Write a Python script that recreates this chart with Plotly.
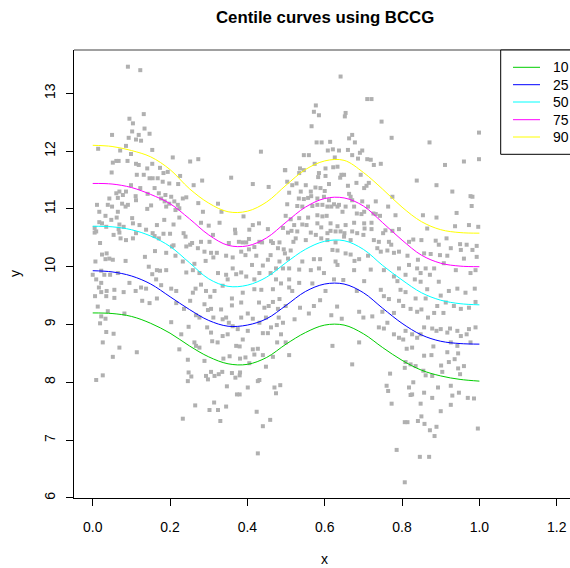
import plotly.graph_objects as go

# ---------------- data ----------------
pts_upper_left = [(0.091,13.46),(0.123,13.40),(0.132,12.64),(0.095,12.56),(0.104,12.48),(0.102,12.34),(0.134,12.39),(0.050,12.28),(0.119,12.28),(0.147,12.30),(0.093,12.23),(0.112,12.20),(0.125,12.18),(0.086,12.09),(0.014,12.04),(0.071,12.01),(0.154,12.02),(0.099,11.95),(0.207,11.89),(0.252,11.82),(0.273,11.86),(0.435,11.99),(0.052,11.80),(0.061,11.83),(0.067,11.83),(0.090,11.83),(0.112,11.78),(0.119,11.76),(0.141,11.70),(0.154,11.78),(0.174,11.71),(0.194,11.64),(0.183,11.62),(0.049,11.63),(0.114,11.59),(0.132,11.59),(0.147,11.53),(0.155,11.53),(0.168,11.53),(0.181,11.47),(0.198,11.44),(0.226,11.57),(0.261,11.41),(0.283,11.49),(0.221,11.43),(0.358,11.54),(0.414,11.43),(0.455,11.38),(0.498,11.67),(0.099,11.41),(0.123,11.36),(0.160,11.36),(0.086,11.30),(0.069,11.30),(0.061,11.27),(0.078,11.24),(0.111,11.22),(0.142,11.26),(0.171,11.27),(0.188,11.24),(0.203,11.21),(0.177,11.18),(0.242,11.20),(0.233,11.18),(0.043,11.18),(0.065,11.19),(0.091,11.07),(0.112,11.15),(0.151,11.06),(0.141,11.00),(0.186,11.13),(0.198,11.09),(0.211,11.13),(0.220,11.07),(0.214,10.98),(0.190,11.04),(0.224,11.01),(0.273,11.10),(0.324,11.09),(0.333,10.95),(0.285,10.95),(0.011,11.07),(0.039,11.07),(0.050,11.04),(0.076,11.09),(0.085,11.04),(0.017,10.95),(0.065,10.95),(0.033,10.88),(0.062,10.85),(0.048,10.81),(0.102,10.84),(0.224,10.85),(0.280,10.76),(0.300,10.71),(0.328,10.76),(0.390,10.87),(0.414,10.72),(0.430,10.75),(0.405,10.64),(0.368,10.64),(0.453,10.65),(0.492,10.67),(0.017,10.77),(0.024,10.75),(0.069,10.73),(0.080,10.69),(0.104,10.75),(0.121,10.72),(0.138,10.64),(0.166,10.72),(0.185,10.81),(0.209,10.73),(0.005,10.67),(0.005,10.59),(0.009,10.61),(0.035,10.69),(0.067,10.65),(0.069,10.59),(0.054,10.55),(0.072,10.49),(0.086,10.46),(0.104,10.49),(0.112,10.58),(0.155,10.58),(0.160,10.53),(0.171,10.49),(0.183,10.57),(0.200,10.57),(0.235,10.58),(0.240,10.52),(0.209,10.37),(0.205,10.35),(0.190,10.24),(0.161,10.27),(0.135,10.17),(0.019,10.41),(0.024,10.21),(0.036,10.23),(0.043,10.14),(0.033,10.13),(0.052,10.12),(0.007,10.09),(0.085,10.10),(0.145,10.00),(0.166,9.94),(0.174,9.93),(0.190,9.94),(0.154,9.87),(0.214,10.19),(0.233,10.09),(0.242,10.35),(0.257,10.41),(0.252,10.38),(0.272,10.32),(0.280,10.43),(0.289,10.26),(0.263,10.05),(0.259,9.94),(0.242,9.90),(0.276,9.89),(0.292,10.10),(0.306,10.24),(0.321,10.24),(0.312,10.16),(0.302,10.43),(0.311,10.55),(0.352,10.41),(0.345,10.19),(0.362,10.16),(0.369,10.58),(0.378,10.43),(0.388,10.42),(0.397,10.42),(0.384,10.26),(0.404,10.48),(0.395,10.20),(0.404,10.30),(0.418,10.34),(0.431,10.43),(0.438,10.42),(0.461,10.44),(0.466,10.41),(0.483,10.42),(0.479,10.32),(0.494,10.30),(0.460,10.20),(0.453,10.12),(0.440,10.02),(0.412,10.03),(0.423,10.19),(0.371,9.87),(0.384,9.90),(0.345,9.86),(0.324,9.89),(0.362,9.97),(0.474,9.97),(0.492,9.97),(0.483,10.09),(0.431,9.89),(0.460,9.89),(0.418,9.78),(0.397,9.83),(0.022,9.93),(0.030,9.86),(0.045,9.86),(0.065,9.89),(0.000,9.86)]

pts_upper_right = [(0.641,13.29),(0.710,12.90),(0.721,12.90),(0.577,12.79),(0.572,12.68),(0.585,12.62),(0.654,12.66),(0.652,12.60),(0.566,12.43),(0.747,12.51),(0.999,12.32),(0.671,12.28),(0.663,12.22),(0.773,12.23),(0.871,12.15),(0.579,12.15),(0.592,12.15),(0.614,12.16),(0.678,12.15),(0.608,12.01),(0.621,12.03),(0.637,12.01),(0.660,12.02),(0.697,12.01),(0.691,11.97),(0.546,11.93),(0.559,11.93),(0.626,11.89),(0.671,11.93),(0.686,11.87),(0.710,11.86),(0.719,11.85),(0.745,11.78),(0.727,11.76),(0.999,11.86),(0.960,11.82),(0.911,11.76),(0.497,11.67),(0.536,11.70),(0.546,11.67),(0.574,11.78),(0.602,11.70),(0.622,11.72),(0.633,11.73),(0.534,11.62),(0.585,11.62),(0.583,11.55),(0.602,11.57),(0.643,11.59),(0.650,11.59),(0.640,11.54),(0.693,11.59),(0.682,11.45),(0.714,11.45),(0.702,11.36),(0.708,11.40),(0.503,11.47),(0.516,11.41),(0.527,11.44),(0.551,11.41),(0.576,11.37),(0.589,11.36),(0.611,11.43),(0.600,11.31),(0.660,11.40),(0.838,11.49),(0.889,11.41),(0.930,11.30),(0.977,11.22),(0.982,11.21),(0.538,11.30),(0.564,11.30),(0.508,11.28),(0.533,11.18),(0.546,11.17),(0.557,11.19),(0.565,11.22),(0.581,11.18),(0.598,11.21),(0.611,11.15),(0.617,11.04),(0.633,11.04),(0.654,11.04),(0.663,11.26),(0.667,11.21),(0.671,11.15),(0.676,11.04),(0.697,11.13),(0.712,11.04),(0.732,11.13),(0.775,11.21),(0.764,11.04),(0.503,11.08),(0.529,11.05),(0.542,11.04),(0.568,11.05),(0.581,11.07),(0.594,11.07),(0.607,11.04),(0.624,11.08),(0.637,11.07),(0.646,10.95),(0.683,10.92),(0.695,10.91),(0.702,10.95),(0.726,10.92),(0.732,10.91),(0.743,10.88),(0.783,10.89),(0.854,10.89),(0.889,10.85),(0.941,10.93),(0.980,11.05),(0.997,10.69),(0.973,10.72),(0.937,10.70),(0.499,10.88),(0.512,10.82),(0.534,10.84),(0.557,10.85),(0.581,10.89),(0.594,10.87),(0.605,10.88),(0.521,10.72),(0.542,10.73),(0.553,10.72),(0.581,10.75),(0.591,10.68),(0.615,10.75),(0.633,10.70),(0.654,10.72),(0.676,10.76),(0.702,10.75),(0.721,10.76),(0.703,10.66),(0.505,10.59),(0.514,10.62),(0.529,10.61),(0.564,10.59),(0.577,10.55),(0.607,10.58),(0.615,10.62),(0.628,10.61),(0.641,10.61),(0.651,10.58),(0.671,10.61),(0.684,10.58),(0.700,10.55),(0.721,10.65),(0.751,10.58),(0.757,10.63),(0.792,10.65),(0.775,10.62),(0.865,10.66),(0.915,10.49),(0.525,10.49),(0.519,10.43),(0.551,10.46),(0.591,10.49),(0.607,10.46),(0.628,10.42),(0.650,10.52),(0.667,10.46),(0.727,10.46),(0.740,10.43),(0.766,10.43),(0.772,10.38),(0.818,10.43),(0.829,10.47),(0.850,10.46),(0.887,10.45),(0.895,10.38),(0.950,10.39),(0.967,10.38),(0.993,10.36),(0.497,10.23),(0.512,10.28),(0.505,10.14),(0.542,10.09),(0.572,10.13),(0.588,10.13),(0.620,10.29),(0.633,10.28),(0.654,10.23),(0.628,10.09),(0.667,10.21),(0.689,10.13),(0.677,10.10),(0.712,10.19),(0.736,10.32),(0.745,10.26),(0.762,10.28),(0.779,10.24),(0.792,10.26),(0.814,10.19),(0.841,10.12),(0.857,10.23),(0.874,10.22),(0.898,10.20),(0.917,10.19),(0.926,10.32),(0.952,10.29),(0.960,10.14),(0.982,10.29),(0.993,10.17),(0.508,9.97),(0.534,9.95),(0.564,9.94),(0.585,9.97),(0.598,9.89),(0.633,10.03),(0.676,9.94),(0.719,9.95),(0.753,9.94),(0.792,9.97),(0.818,10.03),(0.839,9.97),(0.861,9.97),(0.883,9.97),(0.908,10.06),(0.939,9.94),(0.977,9.89),(0.990,9.94),(0.848,9.89),(0.872,9.86),(0.809,9.86),(0.779,9.83)]

pts_lower_left = [(0.009,9.78),(0.022,9.72),(0.016,9.64),(0.006,9.49),(0.022,9.56),(0.036,9.58),(0.056,9.60),(0.080,9.56),(0.095,9.72),(0.111,9.58),(0.125,9.64),(0.138,9.62),(0.164,9.78),(0.177,9.68),(0.203,9.62),(0.216,9.58),(0.259,9.55),(0.266,9.62),(0.280,9.69),(0.293,9.58),(0.315,9.58),(0.336,9.67),(0.349,9.78),(0.388,9.55),(0.418,9.61),(0.436,9.60),(0.466,9.61),(0.487,9.71),(0.474,9.78),(0.035,9.49),(0.056,9.46),(0.013,9.31),(0.039,9.23),(0.128,9.41),(0.147,9.37),(0.166,9.45),(0.216,9.37),(0.236,9.27),(0.252,9.41),(0.289,9.35),(0.304,9.48),(0.298,9.25),(0.306,9.27),(0.332,9.26),(0.360,9.33),(0.360,9.45),(0.384,9.38),(0.430,9.38),(0.444,9.29),(0.455,9.32),(0.466,9.39),(0.483,9.44),(0.479,9.27),(0.022,9.14),(0.033,9.10),(0.019,9.02),(0.082,9.19),(0.203,9.04),(0.267,9.16),(0.276,9.12),(0.312,9.12),(0.336,9.09),(0.345,9.12),(0.352,9.03),(0.362,8.97),(0.384,9.12),(0.401,9.19),(0.414,9.10),(0.431,9.03),(0.448,9.12),(0.481,9.12),(0.476,8.99),(0.492,9.03),(0.035,8.87),(0.054,8.84),(0.026,8.69),(0.069,8.60),(0.052,8.44),(0.114,8.52),(0.229,8.83),(0.248,8.96),(0.296,8.95),(0.309,8.71),(0.323,8.69),(0.306,8.86),(0.336,8.80),(0.349,8.83),(0.375,8.92),(0.388,8.74),(0.401,8.89),(0.414,8.57),(0.427,8.58),(0.440,8.85),(0.453,8.85),(0.461,8.95),(0.477,8.69),(0.487,8.83),(0.263,8.69),(0.276,8.60),(0.267,8.63),(0.224,8.57),(0.246,8.39),(0.289,8.37),(0.338,8.41),(0.354,8.45),(0.371,8.63),(0.380,8.62),(0.381,8.41),(0.395,8.43),(0.405,8.33),(0.418,8.48),(0.440,8.47),(0.448,8.27),(0.466,8.44),(0.026,8.12),(0.009,8.04),(0.248,8.17),(0.255,8.10),(0.246,8.02),(0.293,8.11),(0.298,8.05),(0.306,8.18),(0.315,8.11),(0.326,8.14),(0.335,8.18),(0.360,8.16),(0.369,8.08),(0.381,8.17),(0.380,8.12),(0.427,8.02),(0.431,8.04),(0.347,7.93),(0.401,7.91),(0.470,7.91),(0.485,7.95),(0.474,7.81),(0.373,7.79),(0.380,7.79),(0.265,7.60),(0.314,7.65),(0.302,7.52),(0.324,7.52),(0.345,7.58),(0.424,7.49),(0.233,7.37),(0.330,7.33),(0.459,7.35),(0.440,7.24),(0.427,6.77)]

pts_lower_right = [(0.508,9.78),(0.508,9.64),(0.534,9.72),(0.516,9.58),(0.568,9.71),(0.602,9.58),(0.624,9.78),(0.648,9.77),(0.683,9.58),(0.702,9.75),(0.745,9.60),(0.753,9.49),(0.766,9.44),(0.788,9.75),(0.796,9.60),(0.809,9.56),(0.792,9.41),(0.803,9.32),(0.833,9.78),(0.848,9.74),(0.835,9.45),(0.861,9.45),(0.850,9.26),(0.865,9.61),(0.895,9.74),(0.900,9.50),(0.921,9.58),(0.943,9.62),(0.964,9.55),(0.988,9.62),(0.990,9.39),(0.973,9.29),(0.952,9.27),(0.934,9.32),(0.913,9.38),(0.891,9.32),(0.907,9.20),(0.883,9.20),(0.867,9.12),(0.839,9.22),(0.822,9.27),(0.779,9.20),(0.749,9.22),(0.723,9.14),(0.700,9.12),(0.689,9.22),(0.632,9.31),(0.588,9.42),(0.572,9.32),(0.559,9.19),(0.522,9.09),(0.499,9.32),(0.536,9.29),(0.644,9.10),(0.617,9.16),(0.740,8.95),(0.753,8.93),(0.762,9.03),(0.779,8.83),(0.792,8.77),(0.803,8.74),(0.809,8.89),(0.826,8.83),(0.839,8.77),(0.848,8.83),(0.857,8.95),(0.878,8.93),(0.889,8.89),(0.900,8.92),(0.917,8.86),(0.924,8.93),(0.943,8.89),(0.952,8.80),(0.967,8.83),(0.973,8.92),(0.990,8.95),(0.977,8.69),(0.943,8.63),(0.926,8.69),(0.917,8.52),(0.945,8.50),(0.936,8.40),(0.921,8.35),(0.901,8.29),(0.904,8.18),(0.945,8.24),(0.960,8.28),(0.950,8.14),(0.876,8.47),(0.857,8.46),(0.881,8.62),(0.826,8.60),(0.812,8.58),(0.809,8.35),(0.807,8.25),(0.822,8.31),(0.835,8.28),(0.855,8.20),(0.861,8.12),(0.878,8.11),(0.499,8.69),(0.508,8.47),(0.620,8.63),(0.689,8.69),(0.671,8.31),(0.769,8.15),(0.760,7.94),(0.764,7.85),(0.818,7.91),(0.829,8.00),(0.826,7.79),(0.822,7.78),(0.857,7.82),(0.878,7.73),(0.893,7.91),(0.926,7.94),(0.930,7.77),(0.947,7.82),(0.970,7.73),(0.986,7.72),(0.773,7.63),(0.848,7.63),(0.926,7.61),(0.900,7.50),(0.807,7.31),(0.814,7.31),(0.841,7.33),(0.858,7.28),(0.850,7.41),(0.872,7.17),(0.889,7.23),(0.884,7.07),(0.996,7.20),(0.786,6.83),(0.846,6.71),(0.870,6.71),(0.807,6.27)]

curve_x = [0.0, 0.05, 0.1, 0.15, 0.2, 0.25, 0.3, 0.35, 0.4, 0.45, 0.5,
           0.55, 0.6, 0.65, 0.7, 0.75, 0.8, 0.85, 0.9, 0.95, 1.0]
c10 = [9.20, 9.19, 9.14, 9.02, 8.85, 8.63, 8.44, 8.32, 8.31, 8.43, 8.66,
       8.86, 8.99, 8.99, 8.84, 8.60, 8.38, 8.21, 8.11, 8.05, 8.02]
c25 = [9.93, 9.91, 9.84, 9.70, 9.48, 9.26, 9.07, 8.97, 8.99, 9.10, 9.33,
       9.57, 9.70, 9.70, 9.55, 9.28, 9.02, 8.82, 8.71, 8.67, 8.66]
c50 = [10.70, 10.69, 10.64, 10.53, 10.35, 10.07, 9.79, 9.66, 9.68, 9.82, 10.07,
       10.30, 10.44, 10.45, 10.30, 10.02, 9.77, 9.55, 9.42, 9.36, 9.34]
c75 = [11.44, 11.43, 11.37, 11.25, 11.09, 10.83, 10.55, 10.37, 10.36, 10.50, 10.77,
       11.03, 11.18, 11.19, 11.05, 10.76, 10.46, 10.20, 10.06, 10.01, 10.00]
c90 = [12.10, 12.08, 12.01, 11.90, 11.68, 11.35, 11.10, 10.95, 10.96, 11.12, 11.41,
       11.68, 11.83, 11.84, 11.63, 11.34, 11.03, 10.78, 10.64, 10.59, 10.58]

centile_labels = ["10", "25", "50", "75", "90"]
centile_colors = ["#00CD00", "#0000FF", "#00FFFF", "#FF00FF", "#FFFF00"]
x_ticks = [0.0, 0.2, 0.4, 0.6, 0.8, 1.0, 1.2]
y_ticks = [6, 7, 8, 9, 10, 11, 12, 13]

# ---------------- figure ----------------
all_pts = pts_upper_left + pts_upper_right + pts_lower_left + pts_lower_right
x_obs = [p[0] for p in all_pts]
y_obs = [p[1] for p in all_pts]

FONT = "Liberation Sans, Arial, Helvetica, sans-serif"
FS = 14
W, H = 570, 568
ML, MR, MT, MB = 74, 0, 50, 70
PW, PH = W - ML - MR, H - MT - MB

fig = go.Figure()
fig.add_trace(go.Scatter(x=x_obs, y=y_obs, mode="markers",
                         marker=dict(symbol="square", size=4, color="#B0B0B0",
                                     line=dict(width=0)),
                         showlegend=False, hoverinfo="skip"))
for yy, col in zip([c10, c25, c50, c75, c90], centile_colors):
    fig.add_trace(go.Scatter(x=curve_x, y=yy, mode="lines",
                             line=dict(color=col, width=1, shape="spline"),
                             showlegend=False, hoverinfo="skip"))

def px_x(p):
    return (p - ML) / PW

def px_y(p):
    return (H - MB - p) / PH

shapes = []
annotations = []
# top frame line
shapes.append(dict(type="line", xref="paper", yref="paper", x0=0, x1=1.05,
                   y0=1, y1=1, line=dict(color="#808080", width=1.5), layer="above"))
# legend box
shapes.append(dict(type="rect", xref="paper", yref="paper",
                   x0=px_x(500.7), x1=px_x(580), y0=px_y(154.3), y1=px_y(50),
                   line=dict(color="black", width=1), fillcolor="white", layer="above"))
rows = [67.3, 84.7, 102.0, 119.7, 137.0]
for lab, col, ry in zip(centile_labels, centile_colors, rows):
    shapes.append(dict(type="line", xref="paper", yref="paper",
                       x0=px_x(513), x1=px_x(540), y0=px_y(ry), y1=px_y(ry),
                       line=dict(color=col, width=1), layer="above"))
    annotations.append(dict(text=lab, xref="paper", yref="paper", x=px_x(550.5),
                            y=px_y(ry), xanchor="left", yanchor="middle",
                            showarrow=False, font=dict(family=FONT, size=FS, color="black")))

annotations.append(dict(text="<b>Centile curves using BCCG</b>", xref="paper", yref="paper",
                        x=px_x(324.5), y=px_y(17.5), xanchor="center", yanchor="middle",
                        showarrow=False, font=dict(family=FONT, size=16.8, color="black")))
annotations.append(dict(text="x", xref="paper", yref="paper", x=px_x(324.5), y=px_y(559),
                        xanchor="center", yanchor="middle", showarrow=False,
                        font=dict(family=FONT, size=FS, color="black")))
annotations.append(dict(text="y", xref="paper", yref="paper", x=px_x(15), y=px_y(274),
                        xanchor="center", yanchor="middle", showarrow=False, textangle=-90,
                        font=dict(family=FONT, size=FS, color="black")))

fig.update_layout(
    width=W, height=H,
    margin=dict(l=ML, r=MR, t=MT, b=MB, pad=0),
    paper_bgcolor="white", plot_bgcolor="white",
    font=dict(family=FONT, size=FS, color="black"),
    shapes=shapes, annotations=annotations,
    xaxis=dict(range=[-0.0484, 1.2343], tickvals=x_ticks, tickformat=".1f",
               ticks="outside", ticklen=7, tickwidth=1, tickcolor="black",
               showline=True, linecolor="black", linewidth=1, mirror=False,
               showgrid=False, zeroline=False, ticklabelstandoff=9,
               tickfont=dict(family=FONT, size=FS, color="black")),
    yaxis=dict(range=[5.998, 13.749], tickvals=y_ticks,
               ticks="outside", ticklen=7, tickwidth=1, tickcolor="black",
               showline=True, linecolor="black", linewidth=1, mirror=False,
               showgrid=False, zeroline=False, tickangle=-90, ticklabelstandoff=5,
               tickfont=dict(family=FONT, size=FS, color="black")),
)

fig.write_html("out.html")
